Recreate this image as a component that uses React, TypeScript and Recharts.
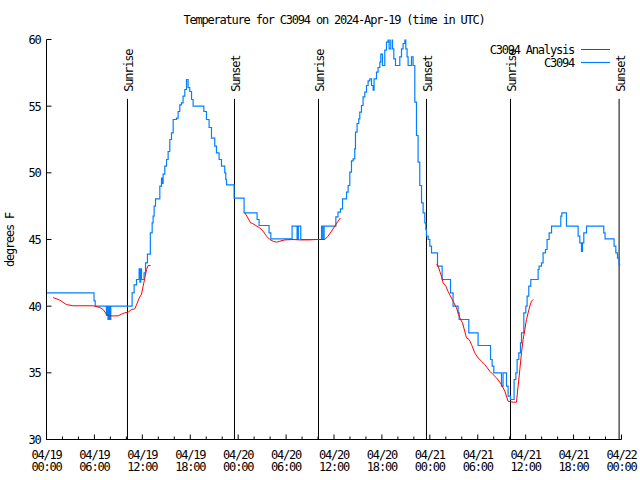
import React from 'react'
import { LineChart, Line, XAxis, YAxis, ReferenceLine } from 'recharts'

const FONT = '"DejaVu Sans Mono", monospace'

// observed temperature (hours since 04/19 00:00 UTC, deg F), drawn as steps
const obsC3094: [number, number][] = [
  [0, 41], [5.95, 40.4], [6.1, 40], [7.5, 39.3], [7.6, 40], [7.7, 39], [7.85, 40], [7.95, 39], [8.05, 40],
  [10.72, 41], [10.97, 41.6], [11.27, 42], [11.6, 42.8], [11.7, 41.8], [11.8, 42.8], [11.9, 42],
  [12.22, 42.5], [12.4, 43.25], [12.64, 43.9], [13.0, 45.5], [13.23, 46.25], [13.35, 46.75], [13.48, 47.5],
  [13.65, 48.05], [14.19, 49], [14.4, 49.6], [14.5, 49.2], [14.6, 49.9], [14.81, 50.5], [15.03, 51],
  [15.23, 51.6], [15.44, 52.5], [15.65, 53], [15.86, 54], [16.28, 54.1], [16.48, 54.6], [16.69, 55.1],
  [16.9, 55.25], [17.1, 55.75], [17.32, 56.25], [17.53, 57], [17.73, 56.4], [17.94, 56.1], [18.16, 55.5],
  [18.36, 55], [19.7, 54.6], [20.03, 54], [20.36, 53.4], [20.66, 52.6], [21.07, 52], [21.28, 51.5],
  [21.61, 51], [21.91, 50.5], [22.32, 50], [22.45, 49.5], [22.54, 49.1], [23.49, 48.1], [24.74, 47],
  [26.37, 46.5], [26.62, 46.05], [27.87, 45.5], [28.09, 45.05], [30.75, 46], [31.38, 45], [31.53, 46],
  [31.84, 45], [34.44, 46], [34.6, 45], [34.76, 46], [36.23, 46.7], [36.5, 47.05], [36.81, 47.3],
  [37.07, 48.05], [37.57, 48.55], [37.77, 49.05], [37.98, 50.05], [38.19, 50.9], [38.39, 51.05], [38.6, 51.8],
  [38.69, 53.05], [38.89, 53.7], [39.1, 54.05], [39.23, 54.55], [39.44, 55.05], [39.64, 55.7], [39.86, 56.05],
  [40.07, 56.55], [40.27, 56.9], [40.48, 57.05], [40.7, 56.55], [40.9, 56.2], [41.02, 57.05], [41.32, 57.55],
  [41.52, 57.9], [41.74, 58.3], [41.86, 58.9], [42.07, 58.05], [42.36, 59.2], [42.57, 59.8], [42.77, 60.3],
  [42.9, 59.3], [43.11, 60.3], [43.33, 59.3], [43.49, 58.55], [43.7, 58.05], [44.24, 58.7], [44.45, 59.3],
  [44.65, 59.7], [44.87, 60.3], [44.99, 59.3], [45.15, 58.7], [45.28, 58.05], [45.58, 58.05], [45.7, 58.7],
  [45.9, 58.05], [46.12, 55.3], [46.33, 52.8], [46.53, 50.8], [46.74, 49.05], [46.96, 47.75], [47.16, 47],
  [47.37, 46.25], [47.5, 45.75], [47.58, 45.25], [47.79, 45], [48.0, 44.5], [48.21, 44], [48.96, 43],
  [49.54, 42], [50.59, 41], [50.91, 40], [51.54, 39.5], [51.67, 39], [52.88, 38], [54.04, 37.05],
  [55.6, 36], [55.8, 35.5], [56.01, 35], [56.97, 34], [57.17, 35], [57.6, 34], [57.8, 33.25],
  [58.1, 33], [58.55, 34.5], [58.77, 35], [58.93, 36], [59.14, 36.5], [59.35, 37.25], [59.48, 38],
  [59.77, 39.5], [60.02, 40], [60.18, 40.75], [60.39, 41.5], [60.64, 42], [61.56, 42.75], [61.68, 43],
  [61.98, 43.25], [62.18, 44], [62.48, 44.25], [62.68, 45], [62.94, 45.5], [63.24, 46], [64.4, 46.75],
  [64.53, 47], [65.11, 46], [66.57, 45.25], [66.78, 44.75], [66.99, 44.1], [67.12, 44.75], [67.28, 45.5],
  [67.62, 46], [69.78, 45.5], [69.94, 45.05], [71.07, 44.5], [71.29, 44], [71.5, 43.6], [71.7, 43.1], [71.85, 43.1]
]

// analysis runs, three 12h pieces
const analysisRun1: [number, number][] = [
  [0.83, 40.65], [1.67, 40.45], [2.5, 40.12], [3.33, 40.03], [5.84, 40.03], [6.67, 39.9], [7.09, 39.75],
  [7.51, 39.4], [7.93, 39.27], [8.97, 39.27], [9.39, 39.4], [9.8, 39.5], [10.22, 39.55], [10.64, 39.75],
  [11.06, 39.8], [11.27, 40.1], [11.6, 40.6], [11.9, 40.9], [12.1, 41.5], [12.31, 42.1], [12.52, 42.75],
  [12.72, 43.05], [13.02, 43.05]
]
const analysisRun2: [number, number][] = [
  [24.83, 47], [25.24, 46.6], [25.54, 46.25], [25.8, 46.2], [26.21, 46.05], [26.71, 45.87], [27.12, 45.62],
  [27.55, 45.25], [27.96, 45], [28.38, 44.87], [28.8, 44.8], [29.22, 44.87], [29.84, 44.97], [30.88, 45],
  [31.72, 44.97], [32.97, 44.97], [33.81, 45], [34.85, 45], [35.26, 45.25], [35.69, 45.62], [36.1, 46],
  [36.51, 46.37], [36.81, 46.62]
]
const analysisRun3: [number, number][] = [
  [48.84, 43.17], [49.04, 43], [49.25, 42.6], [49.46, 42.25], [49.66, 41.75], [50.0, 41.5], [50.29, 41.1],
  [50.71, 40.6], [50.91, 40.37], [51.34, 39.87], [51.75, 39.12], [52.09, 38.75], [52.37, 38.12],
  [52.59, 37.62], [52.92, 37.5], [53.22, 37.12], [53.63, 36.5], [54.04, 36.12], [54.47, 35.87],
  [54.88, 35.62], [55.51, 35.12], [55.92, 34.87], [56.35, 34.62], [56.97, 34.12], [57.39, 33.62],
  [57.8, 32.87], [58.43, 32.8], [58.85, 32.8], [59.05, 34], [59.27, 35.25], [59.48, 36.5], [59.68, 37.5],
  [59.9, 38.25], [60.1, 39], [60.31, 39.5], [60.52, 40], [60.73, 40.37], [60.93, 40.5]
]

const sunHours = [10.14, 23.54, 34.06, 47.58, 58.1, 71.7]
const sunLabels = ['Sunrise', 'Sunset', 'Sunrise', 'Sunset', 'Sunrise', 'Sunset']

const xTicks = [0, 2, 4, 6, 8, 10, 12, 14, 16, 18, 20, 22, 24, 26, 28, 30, 32, 34, 36, 38, 40, 42, 44, 46, 48,
  50, 52, 54, 56, 58, 60, 62, 64, 66, 68, 70, 72]
const xMajorHours = [0, 6, 12, 18, 24, 30, 36, 42, 48, 54, 60, 66, 72]
const xDayLabels = ['04/19', '04/19', '04/19', '04/19', '04/20', '04/20', '04/20', '04/20', '04/21', '04/21',
  '04/21', '04/21', '04/22']
const xTimeLabels = ['00:00', '06:00', '12:00', '18:00', '00:00', '06:00', '12:00', '18:00', '00:00', '06:00',
  '12:00', '18:00', '00:00']
const yTicks = [30, 35, 40, 45, 50, 55, 60]

const toPoints = (arr: [number, number][]) => arr.map(([h, t]) => ({ h, t }))
const obsData = toPoints(obsC3094)
const analysisData = [analysisRun1, analysisRun2, analysisRun3].map(toPoints)

const txt = { fontFamily: FONT, fontSize: 12, letterSpacing: -1.2, fill: '#000' }

function BottomTick({ x, y, payload }: any) {
  const i = xMajorHours.indexOf(payload.value)
  const major = i >= 0
  return (
    <g>
      <line x1={x} x2={x} y1={y} y2={y - (major ? 5 : 3)} stroke="#000" />
      {major && (
        <text x={x} y={y + 19} textAnchor="middle" style={txt}>
          <tspan x={x} dy={0}>{xDayLabels[i]}</tspan>
          <tspan x={x} dy={12.5}>{xTimeLabels[i]}</tspan>
        </text>
      )}
    </g>
  )
}

function TopTick({ x, y, payload }: any) {
  const major = xMajorHours.indexOf(payload.value) >= 0
  return <line x1={x} x2={x} y1={y} y2={y + (major ? 5 : 3)} stroke="#000" />
}

function LeftTick({ x, y, payload }: any) {
  return (
    <g>
      <line x1={x} x2={x + 5} y1={y} y2={y} stroke="#000" />
      <text x={x - 6} y={y + 4.5} textAnchor="end" style={txt}>{payload.value}</text>
    </g>
  )
}

function RightTick({ x, y }: any) {
  return <line x1={x} x2={x - 5} y1={y} y2={y} stroke="#000" />
}

function sunShape(label: string) {
  return (p: any) => {
    const top = Math.min(p.y1, p.y2)
    const bottom = Math.max(p.y1, p.y2)
    const tx = p.x1 + 5.5
    const ty = top - 7
    return (
      <g>
        <line x1={p.x1} x2={p.x2} y1={top} y2={bottom} stroke="#000" strokeWidth={1} />
        <text x={tx} y={ty} transform={`rotate(-90 ${tx} ${ty})`} style={txt}>{label}</text>
      </g>
    )
  }
}

export default function App() {
  return (
    <div style={{ position: 'absolute', left: 0, top: 0, width: 640, height: 480, background: '#fff' }}>
      <LineChart width={640} height={480} margin={{ top: 39.5, right: 18.5, bottom: 0, left: 6.5 }}>
        <XAxis type="number" dataKey="h" domain={[0, 72]} ticks={xTicks} interval={0} allowDataOverflow
          height={40.5} tickSize={0} tickMargin={0} tickLine={false} axisLine={{ stroke: '#000' }} tick={<BottomTick />} />
        <XAxis xAxisId="top" orientation="top" type="number" dataKey="h" domain={[0, 72]} ticks={xTicks} interval={0}
          height={0} tickSize={0} tickMargin={0} tickLine={false} axisLine={{ stroke: '#000' }} tick={<TopTick />} />
        <YAxis type="number" domain={[30, 60]} ticks={yTicks} interval={0} allowDataOverflow width={40}
          tickSize={0} tickMargin={0} tickLine={false} axisLine={{ stroke: '#000' }} tick={<LeftTick />} />
        <YAxis yAxisId="right" orientation="right" type="number" domain={[30, 60]} ticks={yTicks} interval={0}
          width={0} tickSize={0} tickMargin={0} tickLine={false} axisLine={{ stroke: '#000' }} tick={<RightTick />} />
        {sunHours.map((h, i) => (
          <ReferenceLine key={'sun' + i} segment={[{ x: h, y: 30 }, { x: h, y: 55.55 }]}
            shape={sunShape(sunLabels[i])} />
        ))}
        <Line data={obsData} dataKey="t" type="stepAfter" stroke="#0080ff" strokeWidth={1.2} dot={false}
          isAnimationActive={false} />
        {analysisData.map((d, i) => (
          <Line key={'an' + i} data={d} dataKey="t" type="linear" stroke="#ff0000" strokeWidth={1} dot={false}
            isAnimationActive={false} />
        ))}
      </LineChart>
      <svg width={640} height={480} style={{ position: 'absolute', left: 0, top: 0, pointerEvents: 'none' }}>
        <text x={334} y={24} textAnchor="middle" style={txt}>Temperature for C3094 on 2024-Apr-19 (time in UTC)</text>
        <text x={14} y={240} textAnchor="middle" transform="rotate(-90 14 240)" style={txt}>degrees F</text>
        <text x={574} y={54} textAnchor="end" style={txt}>C3094 Analysis</text>
        <line x1={581} x2={610} y1={49.5} y2={49.5} stroke="#ff0000" />
        <text x={574} y={66.5} textAnchor="end" style={txt}>C3094</text>
        <line x1={581} x2={610} y1={62.5} y2={62.5} stroke="#0080ff" strokeWidth={1.2} />
      </svg>
    </div>
  )
}
